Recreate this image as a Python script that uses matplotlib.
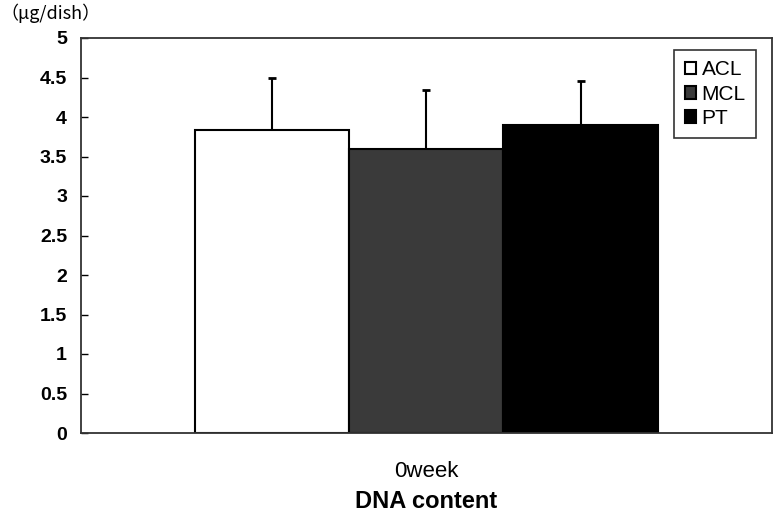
import numpy as np
import matplotlib
matplotlib.use("Agg")
import matplotlib.pyplot as plt

plt.rcParams['font.family'] = ['Liberation Sans', 'DejaVu Sans']

groups = ["ACL", "MCL", "PT"]
means = [3.83, 3.60, 3.90]
sds = [0.66, 0.74, 0.55]
colors = ["white", "#3a3a3a", "black"]
category = "0week"

fig = plt.figure(figsize=(7.74, 5.14), dpi=100)
ax = fig.add_axes([81/774, 1-433/514, 691/774, 395/514])

w = 0.2
offs = np.array([-1, 0, 1]) * w
for i in range(3):
    ax.bar(offs[i], means[i], width=w, color=colors[i], edgecolor="black",
           linewidth=1.5, label=groups[i], zorder=2)
    ax.errorbar(offs[i], means[i], yerr=[[0], [sds[i]]], fmt="none",
                ecolor="black", elinewidth=1.5, capsize=3, capthick=2, zorder=1)

ax.set_xlim(-345.5/770, 345.5/770)
ax.set_ylim(0, 5)
ax.set_yticks(np.arange(0, 5.01, 0.5))
ax.set_yticklabels(["0", "0.5", "1", "1.5", "2", "2.5", "3", "3.5", "4", "4.5", "5"],
                   fontsize=14, fontweight="bold")
ax.tick_params(axis="y", direction="in", length=5, width=1, pad=10)
ax.set_xticks([0])
ax.set_xticklabels([category], fontsize=16)
ax.tick_params(axis="x", length=0, pad=20)
for s in ax.spines.values():
    s.set_linewidth(1.3)
    s.set_color("#333333")

leg = ax.legend(loc="upper right", bbox_to_anchor=(756/691 - 81/691, (433-50)/395),
                fontsize=15, frameon=True, fancybox=False, edgecolor="black",
                handlelength=0.55, handleheight=0.55, handletextpad=0.25,
                labelspacing=0.25, borderpad=0.5, borderaxespad=0)
leg.get_frame().set_linewidth(1.2)

fig.text(0/774, 1-13/514, "（μg/dish）", fontsize=13,
         family=['Noto Sans CJK JP', 'DejaVu Sans'], va="center", ha="left")
fig.text(426/774, 1-501/514, "DNA content", fontsize=17, fontweight="bold",
         ha="center", va="center")

fig.savefig("out.png", dpi=100)
